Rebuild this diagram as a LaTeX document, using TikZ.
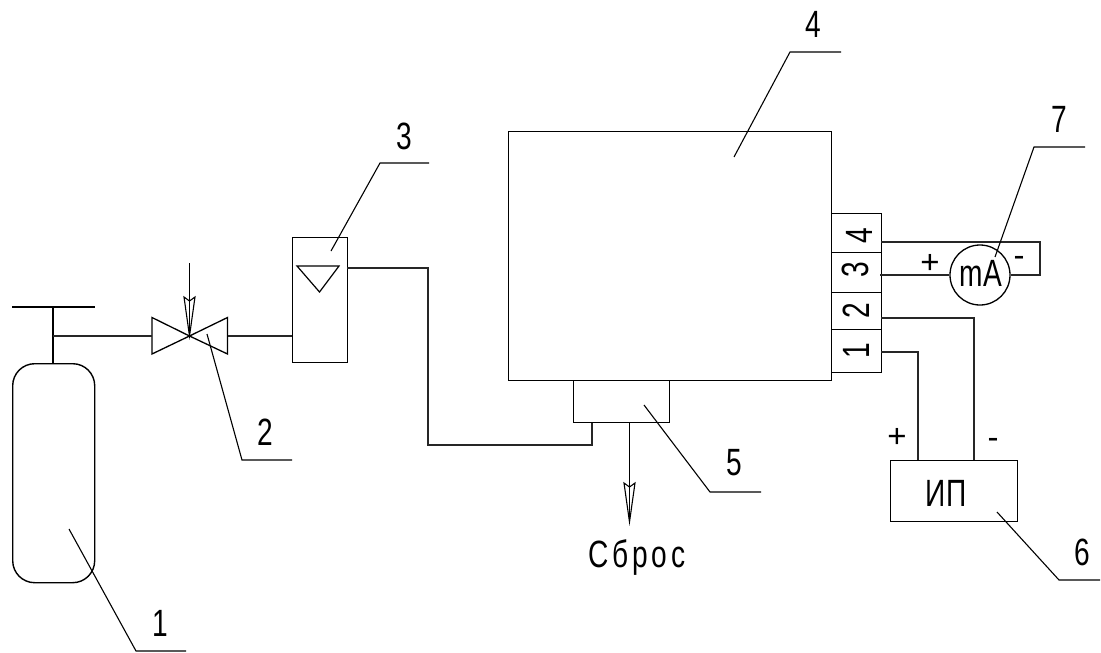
\documentclass[tikz,border=0pt]{standalone}
\usepackage{fontspec}
\setmainfont{Liberation Sans}[FakeStretch=0.74]
\newfontfamily\wide{Liberation Sans}[FakeStretch=0.74,LetterSpace=10]
\newfontfamily\plain{Liberation Sans}
\usetikzlibrary{calc}
\tikzset{
  x=1pt,y=-1pt,
  ln/.style={line width=1.2pt,draw=black!85,line join=miter},
  leader/.style={line width=1.1pt,draw=black},
  boxed/.style={rectangle,draw=black,line width=1.4pt,inner sep=0pt,anchor=north west},
  lbl/.style={font=\fontsize{38}{42}\selectfont,inner sep=0pt},
  sign/.style={font=\plain\fontsize{33}{36}\selectfont,inner sep=0pt},
}
\newcommand{\openhead}[1]{%
  \draw[line width=1.1pt] (#1) -- ++(-5.5,-39) -- ++(5.5,4) -- ++(5.5,-4) -- cycle;
  \draw[line width=1.1pt] (#1) -- ++(0,-35);}
\begin{document}
\begin{tikzpicture}
\useasboundingbox (0,0) rectangle (1101,653);
% cylinder
\node[boxed,rounded corners=22pt,minimum width=82pt,minimum height=219pt] (cyl) at (12,363) {};
\coordinate (bartl) at (12,307);
\coordinate (bartr) at (95,307);
\coordinate (stem) at (53,307);
\coordinate (tee) at (53,336);
\draw[line width=1.3pt] (bartl) -- (bartr);
\draw[line width=1.3pt] (stem) -- (stem |- cyl.north);
% valve
\coordinate (vc) at (189.5,336);
\coordinate (vl) at (152,336);
\coordinate (vr) at (227.5,336);
\draw[line width=1.3pt] (152,317.5) -- (vc) -- (227.5,317.5) -- (227.5,354) -- (vc) -- (152,354) -- cycle;
\coordinate (vt) at (189.5,263);
\draw[line width=1.1pt] (vt) -- (vc);
\openhead{vc}
\draw[ln] (tee) -- (vl);
% rotameter
\node[boxed,minimum width=55.5pt,minimum height=125pt] (rot) at (291.5,237) {};
\draw[line width=1.2pt] (297,266) -- (339,266) -- (319.5,292) -- cycle;
\draw[ln] (vr) -- (vr -| rot.west);
% main unit
\node[boxed,minimum width=323pt,minimum height=249pt] (main) at (508,131) {};
\node[boxed,minimum width=96pt,minimum height=42pt] (five) at (573,380) {};
\coordinate (rotout) at (347,268);
\coordinate (c1) at (428,268);
\coordinate (c2) at (428,445);
\coordinate (c3) at (592,445);
\draw[ln] (rotout) -- (c1) -- (c2) -- (c3) -- (c3 |- five.south);
\coordinate (drain) at (629.5,422);
\coordinate (draintip) at (629.5,522);
\draw[line width=1.1pt] (drain) -- (draintip);
\openhead{draintip}
\node[lbl,font=\wide\fontsize{38}{42}\selectfont,anchor=base] (sbros) at (637,567) {Сброс};
% terminals
\node[boxed,minimum width=49.5pt,minimum height=39pt] (t4) at (831,213) {};
\node[boxed,minimum width=49.5pt,minimum height=40pt] (t3) at (831,252) {};
\node[boxed,minimum width=49.5pt,minimum height=37pt] (t2) at (831,292) {};
\node[boxed,minimum width=50pt,minimum height=43pt] (t1) at (831,329) {};
\node[lbl,rotate=90] (n4) at (859,235.5) {4};
\node[lbl,rotate=90] (n3) at (855,270) {3};
\node[lbl,rotate=90] (n2) at (856,311) {2};
\node[lbl,rotate=90] (n1) at (856,351) {1};
% milliammeter
\node[circle,draw=black,line width=1.3pt,minimum size=60pt,inner sep=0pt] (ma) at (980,275) {};
\node[lbl] (matxt) at (981,273.5) {mA};
\coordinate (w4a) at (881,242);
\coordinate (w4b) at (1040,242);
\coordinate (w4c) at (1040,275);
\draw[ln] (w4a) -- (w4b) -- (w4c) -- (ma.east);
\coordinate (w3a) at (880,275);
\draw[ln] (w3a) -- (ma.west);
\node[sign] (mplus) at (930,264) {+};
\node[sign] (mminus) at (1019,261) {-};
% power supply
\node[boxed,minimum width=127pt,minimum height=61pt] (ip) at (890,460) {};
\node[lbl] (iptxt) at (946,493) {ИП};
\coordinate (w2a) at (881,318);
\coordinate (w2b) at (974,318);
\coordinate (w1a) at (881,352);
\coordinate (w1b) at (918,352);
\draw[ln] (w2a) -- (w2b) -- (w2b |- ip.north);
\draw[ln] (w1a) -- (w1b) -- (w1b |- ip.north);
\node[sign] (pplus) at (897,438) {+};
\node[sign] (pminus) at (993,443) {-};
% leaders
\coordinate (l1a) at (69,529); \coordinate (l1b) at (136,651); \coordinate (l1c) at (186,651);
\coordinate (l2a) at (207,334); \coordinate (l2b) at (242,460); \coordinate (l2c) at (292,460);
\coordinate (l3a) at (331,251); \coordinate (l3b) at (380,163); \coordinate (l3c) at (429,163);
\coordinate (l4a) at (734,157); \coordinate (l4b) at (790,52); \coordinate (l4c) at (841,52);
\coordinate (l5a) at (644,405); \coordinate (l5b) at (710,492); \coordinate (l5c) at (761,492);
\coordinate (l6a) at (997,512); \coordinate (l6b) at (1059,580); \coordinate (l6c) at (1100,580);
\coordinate (l7a) at (995,257); \coordinate (l7b) at (1034,147); \coordinate (l7c) at (1085,147);
\foreach \i in {1,...,7}{\draw[leader] (l\i a) -- (l\i b) -- (l\i c);}
\node[lbl] (lab1) at (160,623) {1};
\node[lbl] (lab2) at (265.5,432) {2};
\node[lbl] (lab3) at (404,136.5) {3};
\node[lbl] (lab4) at (813.5,24.5) {4};
\node[lbl] (lab5) at (734,463) {5};
\node[lbl] (lab6) at (1082.5,552) {6};
\node[lbl] (lab7) at (1059,119) {7};
\end{tikzpicture}
\end{document}
